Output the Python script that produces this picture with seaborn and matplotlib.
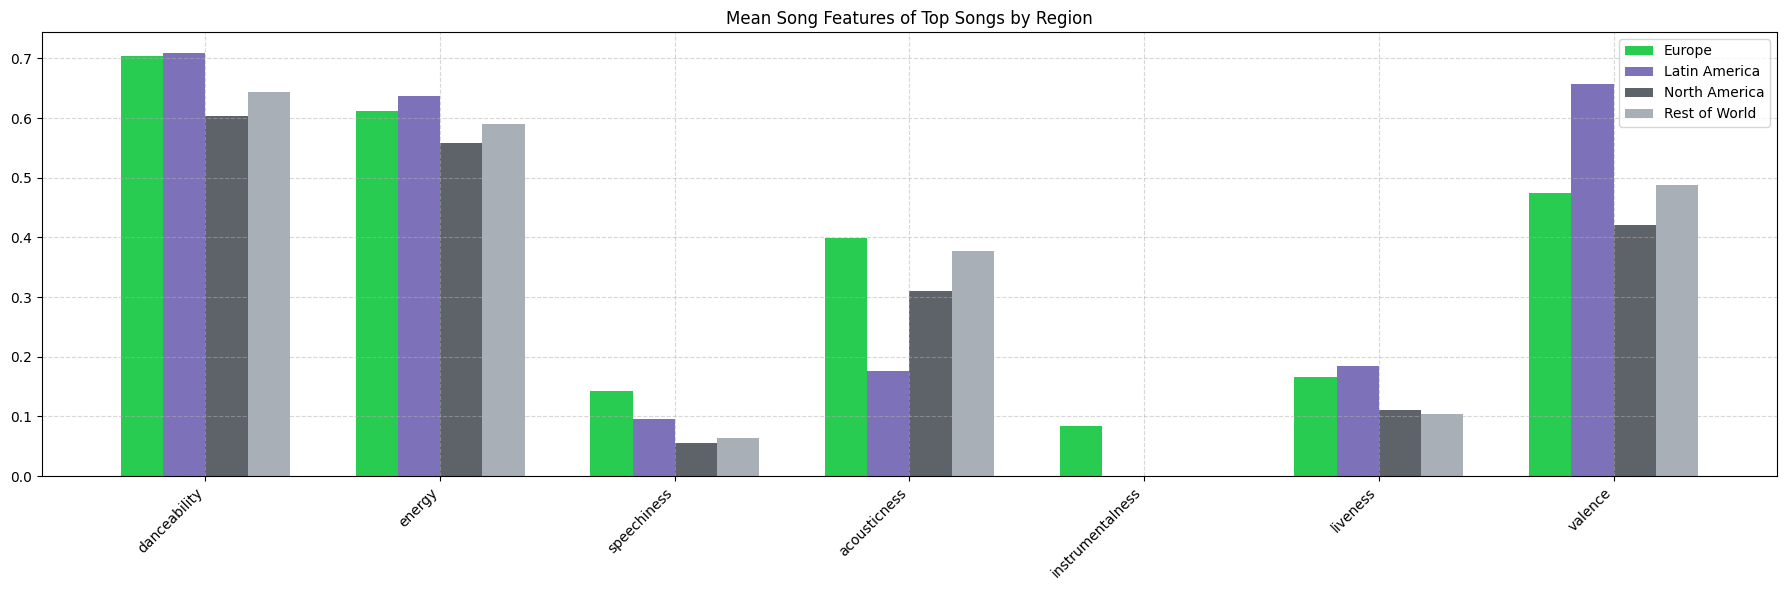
import pandas as pd
import numpy as np
import matplotlib
matplotlib.use('Agg')
import matplotlib.pyplot as plt
import seaborn as sns

features = ['danceability', 'energy', 'speechiness', 'acousticness',
            'instrumentalness', 'liveness', 'valence']
regions = ['Europe', 'Latin America', 'North America', 'Rest of World']

europe = [0.704, 0.612, 0.142, 0.399, 0.084, 0.166, 0.474]
latin_america = [0.709, 0.637, 0.095, 0.176, 0.0, 0.184, 0.657]
north_america = [0.604, 0.558, 0.055, 0.310, 0.0, 0.111, 0.421]
rest_of_world = [0.644, 0.590, 0.064, 0.377, 0.0, 0.104, 0.488]

colors = ['#27cc51', '#7d72ba', '#5e6269', '#a9afb7']

values = {'Europe': europe, 'Latin America': latin_america,
          'North America': north_america, 'Rest of World': rest_of_world}
rows = []
for r in regions:
    for f, v in zip(features, values[r]):
        rows.append({'feature': f, 'region': r, 'value': v})
df = pd.DataFrame(rows)

fig, ax = plt.subplots(figsize=(17.9, 5.9), dpi=100)
sns.barplot(data=df, x='feature', y='value', hue='region', hue_order=regions,
            order=features, palette=colors, width=0.72, saturation=1,
            linewidth=0, errorbar=None, ax=ax)
ax.set_xlim(-0.696, 6.696)
ax.set_title('Mean Song Features of Top Songs by Region')
ax.set_xlabel('')
ax.set_ylabel('')
plt.setp(ax.get_xticklabels(), rotation=45, ha='right')
ax.grid(True, linestyle='--', alpha=0.5)
ax.legend(loc='upper right')
plt.subplots_adjust(left=0.0235, right=0.9927, top=0.9458, bottom=0.1932)
plt.savefig('out.png')
